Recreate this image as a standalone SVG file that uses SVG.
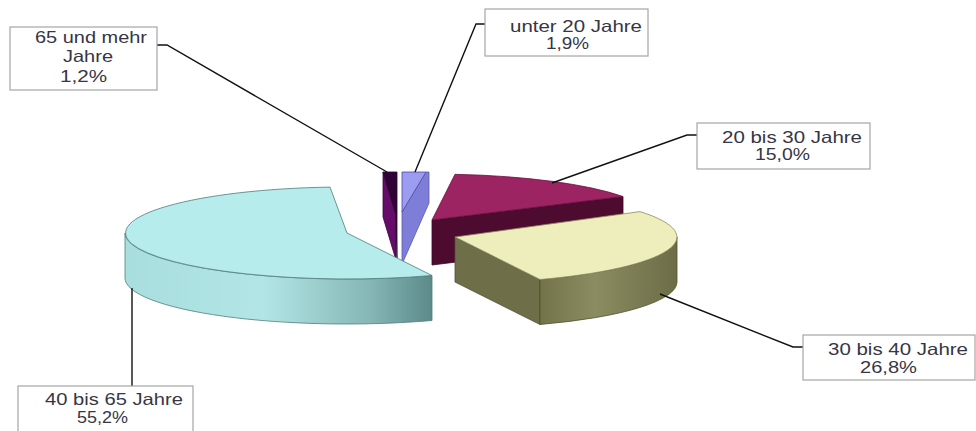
<svg xmlns="http://www.w3.org/2000/svg" width="976" height="431" viewBox="0 0 976 431">
<style>
.box{fill:#fff;stroke:#a6a6a6;stroke-width:1.2}
.lbl{font-family:"Liberation Sans",Arial,sans-serif;font-size:16.5px;fill:#363644}
.conn{fill:none;stroke:#111;stroke-width:1.4}
.edge{stroke-width:0.8;stroke-linejoin:round}
</style>
<defs>
<linearGradient id="cyanWall" x1="125" y1="0" x2="432" y2="0" gradientUnits="userSpaceOnUse">
<stop offset="0" stop-color="#a9dede"/>
<stop offset="0.45" stop-color="#b2e6e6"/>
<stop offset="0.8" stop-color="#86b6b6"/>
<stop offset="1" stop-color="#5c8a8a"/>
</linearGradient>
<linearGradient id="yelWall" x1="540" y1="0" x2="677" y2="0" gradientUnits="userSpaceOnUse">
<stop offset="0" stop-color="#737349"/>
<stop offset="0.4" stop-color="#8c8c62"/>
<stop offset="1" stop-color="#6c6c46"/>
</linearGradient>
</defs>
<rect width="976" height="431" fill="#fff"/>

<g id="slice-65-und-mehr">
<polygon class="edge" points="383,172 396,215 396,260 383,217" fill="#640c68" stroke="#3a0540"/>
<polygon class="edge" points="383,172 397,172 397,258 396,215" fill="#2e0434" stroke="#2a0430"/>
</g>

<g id="slice-unter-20">
<polygon class="edge" points="426,172 429,172 429,203 403,262 402,262 402,212" fill="#7e7ed8" stroke="#5a5ab0"/>
<polygon class="edge" points="402,172 426,172 402,212" fill="#9c9cf0" stroke="#4a4aa0"/>
</g>

<g id="slice-20-bis-30">
<path class="edge" d="M432,220 L623,196.5 L623,241.5 L432,265 Z" fill="#4e0b30" stroke="#3a0824"/>
<path class="edge" d="M432,220 L455,174.3 A222 46 0 0 1 623,196.5 Z" fill="#9c2463" stroke="#6a1040"/>
</g>

<g id="slice-30-bis-40">
<path class="edge" d="M455,237 L540,279.5 L540,324.5 L455,282 Z" fill="#6e6e48" stroke="#4e4e30"/>
<path class="edge" d="M540,279.5 A222 46 0 0 0 677,237 L677,282 A222 46 0 0 1 540,324.5 Z" fill="url(#yelWall)" stroke="#4e4e30"/>
<path class="edge" d="M455,237 L640,211.6 A222 46 0 0 1 540,279.5 Z" fill="#eeeebc" stroke="#8a8a60"/>
</g>

<g id="slice-40-bis-65">
<path class="edge" d="M432,275.5 A222 46 0 0 1 125,233 L125,278 A222 46 0 0 0 432,320.5 Z" fill="url(#cyanWall)" stroke="#4f7c7c"/>
<path class="edge" d="M347,233 L432,275.5 A222 46 0 1 1 330,187.1 Z" fill="#b6ecec" stroke="#4f7c7c"/>
</g>

<g id="connectors">
<polyline class="conn" points="157,45 167,45 387,172"/>
<polyline class="conn" points="485,24 476,24 415,172"/>
<polyline class="conn" points="697,135 687,135 552,183"/>
<polyline class="conn" points="803,347 793,347 660,294"/>
<polyline class="conn" points="132,288 132,386"/>
</g>

<g id="label-65-und-mehr">
<rect class="box" x="10" y="27" width="147" height="63"/>
<text class="lbl" x="35" y="43" textLength="112" lengthAdjust="spacingAndGlyphs">65 und mehr</text>
<text class="lbl" x="63" y="62" textLength="50" lengthAdjust="spacingAndGlyphs">Jahre</text>
<text class="lbl" x="60" y="82" textLength="47" lengthAdjust="spacingAndGlyphs">1,2%</text>
</g>

<g id="label-unter-20">
<rect class="box" x="485" y="9" width="163" height="47"/>
<text class="lbl" x="510" y="32" textLength="132" lengthAdjust="spacingAndGlyphs">unter 20 Jahre</text>
<text class="lbl" x="546" y="49" textLength="43" lengthAdjust="spacingAndGlyphs">1,9%</text>
</g>

<g id="label-20-bis-30">
<rect class="box" x="697" y="123" width="173" height="46"/>
<text class="lbl" x="722" y="143" textLength="140" lengthAdjust="spacingAndGlyphs">20 bis 30 Jahre</text>
<text class="lbl" x="755" y="160" textLength="55" lengthAdjust="spacingAndGlyphs">15,0%</text>
</g>

<g id="label-30-bis-40">
<rect class="box" x="803" y="335" width="172" height="45"/>
<text class="lbl" x="828" y="355" textLength="140" lengthAdjust="spacingAndGlyphs">30 bis 40 Jahre</text>
<text class="lbl" x="860" y="373" textLength="57" lengthAdjust="spacingAndGlyphs">26,8%</text>
</g>

<g id="label-40-bis-65">
<rect class="box" x="18" y="386" width="175" height="50"/>
<text class="lbl" x="45" y="405" textLength="138" lengthAdjust="spacingAndGlyphs">40 bis 65 Jahre</text>
<text class="lbl" x="77" y="423" textLength="51" lengthAdjust="spacingAndGlyphs">55,2%</text>
</g>
</svg>
